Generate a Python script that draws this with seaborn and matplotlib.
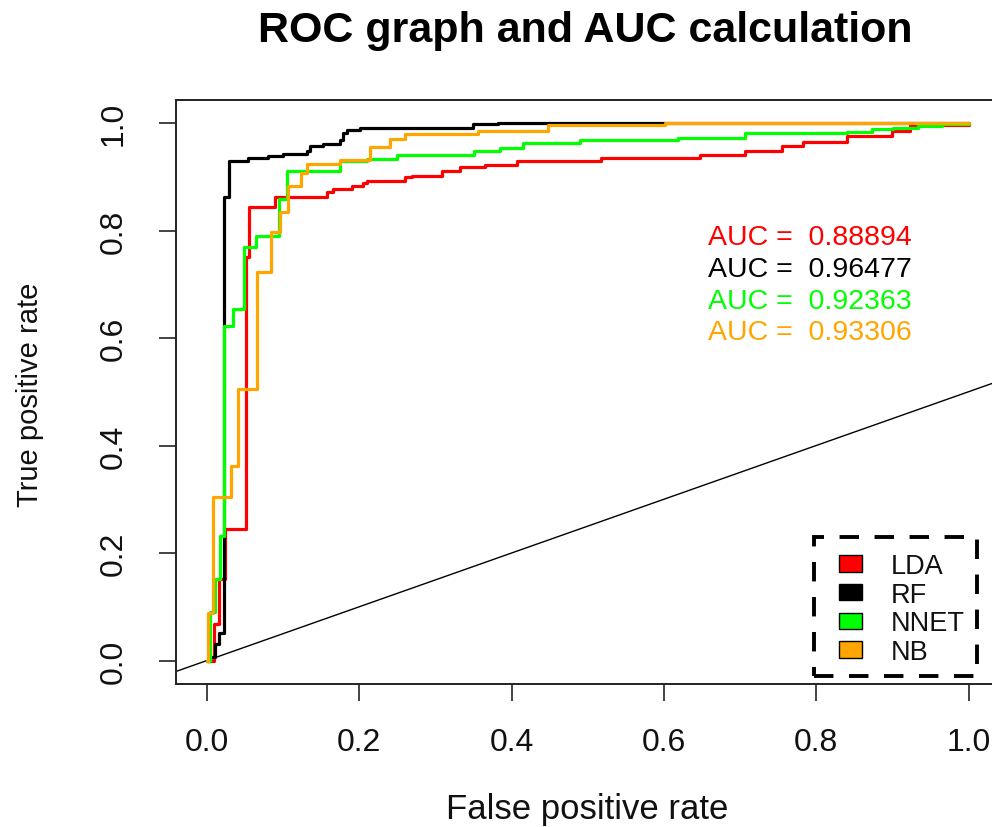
import matplotlib
matplotlib.use("Agg")
import matplotlib.pyplot as plt
import seaborn as sns
import pandas as pd
from matplotlib.patches import Patch, Rectangle

# ---- data ----
models = ["LDA", "RF", "NNET", "NB"]
colors = ["#FF0000", "#000000", "#00FF00", "#FFA500"]
auc_values = ["0.88894", "0.96477", "0.92363", "0.93306"]

lda_fpr = [0, 0.009, 0.016, 0.024, 0.051, 0.055, 0.089, 0.157, 0.165, 0.190, 0.205, 0.210, 0.260, 0.269,
           0.308, 0.332, 0.365, 0.407, 0.518, 0.647, 0.706, 0.755, 0.783, 0.840, 0.899, 0.923, 1.0]
lda_tpr = [0, 0.068, 0.152, 0.245, 0.751, 0.844, 0.862, 0.871, 0.877, 0.883, 0.888, 0.893, 0.899, 0.902,
           0.911, 0.918, 0.921, 0.930, 0.935, 0.940, 0.948, 0.958, 0.964, 0.976, 0.985, 0.996, 1.0]

rf_fpr = [0, 0.004, 0.010, 0.016, 0.022, 0.029, 0.054, 0.080, 0.100, 0.131, 0.135, 0.152, 0.175, 0.179,
          0.184, 0.201, 0.349, 0.382, 1.0]
rf_tpr = [0, 0.007, 0.030, 0.052, 0.863, 0.930, 0.935, 0.939, 0.942, 0.948, 0.957, 0.961, 0.968, 0.981,
          0.987, 0.991, 0.998, 1.0, 1.0]

nnet_fpr = [0, 0.004, 0.0105, 0.017, 0.022, 0.034, 0.049, 0.064, 0.094, 0.105, 0.175, 0.210, 0.249, 0.350,
            0.385, 0.415, 0.490, 0.619, 0.706, 0.840, 0.873, 0.901, 0.934, 0.965, 1.0]
nnet_tpr = [0, 0.090, 0.152, 0.232, 0.623, 0.654, 0.769, 0.790, 0.859, 0.911, 0.930, 0.933, 0.940, 0.948,
            0.953, 0.963, 0.969, 0.972, 0.981, 0.984, 0.988, 0.990, 0.994, 0.998, 1.0]

nb_fpr = [0, 0.001, 0.0075, 0.032, 0.041, 0.066, 0.084, 0.096, 0.106, 0.124, 0.131, 0.175, 0.214, 0.240,
          0.260, 0.356, 0.448, 0.601, 1.0]
nb_tpr = [0, 0.088, 0.304, 0.361, 0.505, 0.722, 0.797, 0.834, 0.883, 0.907, 0.924, 0.931, 0.955, 0.970,
          0.980, 0.986, 0.997, 1.0, 1.0]

x_ticks = [0.0, 0.2, 0.4, 0.6, 0.8, 1.0]
y_ticks = [0.0, 0.2, 0.4, 0.6, 0.8, 1.0]
diag_slope = 0.5

title = "ROC graph and AUC calculation"
xlabel = "False positive rate"
ylabel = "True positive rate"

# ---- build table ----
frames = []
for name, fx, ty in zip(models, [lda_fpr, rf_fpr, nnet_fpr, nb_fpr], [lda_tpr, rf_tpr, nnet_tpr, nb_tpr]):
    frames.append(pd.DataFrame({"fpr": fx, "tpr": ty, "model": name}))
df = pd.concat(frames, ignore_index=True)

sns.set_theme(style="ticks")
plt.rcParams["font.family"] = ["Liberation Sans", "DejaVu Sans"]
plt.rcParams["text.color"] = "black"

W, H = 992, 828
fig = plt.figure(figsize=(W / 100, H / 100), dpi=100)
left_px, right_px, top_px, bottom_px = 176, 999.5, 101, 685
ax = fig.add_axes([left_px / W, 1 - bottom_px / H, (right_px - left_px) / W, (bottom_px - top_px) / H])

sns.lineplot(data=df, x="fpr", y="tpr", hue="model", hue_order=models, palette=colors,
             estimator=None, sort=False, drawstyle="steps-post", linewidth=2.3,
             legend=False, ax=ax)

ax.axline((0, 0), slope=diag_slope, color="black", linewidth=1.0, zorder=1)

ax.set_xlim(-0.0407, 1.0407)
ax.set_ylim(-0.0437, 1.0428)
ax.set_xticks(x_ticks)
ax.set_yticks(y_ticks)
ax.set_xticklabels([f"{v:.1f}" for v in x_ticks])
ax.set_yticklabels([f"{v:.1f}" for v in y_ticks], rotation=90, va="center")
ax.tick_params(axis="both", direction="out", length=12, width=1.2, color="#222222",
               labelsize=23, labelcolor="#111111")
ax.tick_params(axis="x", pad=19)
ax.tick_params(axis="y", pad=22)
ax.set_xlabel("")
ax.set_ylabel("")
for sp in ax.spines.values():
    sp.set_linewidth(1.4)
    sp.set_color("#222222")

# AUC texts
auc_y = [0.788, 0.728, 0.668, 0.611]
for c, v, yy in zip(colors, auc_values, auc_y):
    ax.text(0.658, yy, f"AUC =  {v}", color=c, fontsize=20.5, va="center", ha="left")

# legend: dashed frame drawn as a separate rectangle, entries via legend
box_l, box_t, box_r, box_b = 814, 538, 977, 677
fig.patches.append(Rectangle((box_l / W, 1 - box_b / H), (box_r - box_l) / W, (box_b - box_t) / H,
                             transform=fig.transFigure, fill=False, edgecolor="black",
                             linewidth=2.8, linestyle=(0, (5, 4)), zorder=5))
handles = [Patch(facecolor=c, edgecolor="black", linewidth=1.0) for c in colors]
leg = ax.legend(handles, models, loc="upper left", bbox_to_anchor=(839 / W, 1 - 554 / H),
                bbox_transform=fig.transFigure, fontsize=19.5, frameon=False,
                handlelength=0.85, handleheight=0.55, handletextpad=1.05, labelspacing=0.1,
                borderpad=0.0, borderaxespad=0)
for t in leg.get_texts():
    t.set_color("#111111")

fig.text(585 / W, 1 - 31 / H, title, ha="center", va="center", fontsize=31, fontweight="bold",
         color="black")
fig.text(587 / W, 1 - 810 / H, xlabel, ha="center", va="center", fontsize=25, color="#111111")
fig.text(30 / W, 1 - 395 / H, ylabel, ha="center", va="center", fontsize=21, rotation=90, color="#111111")

fig.savefig("out.png", dpi=100)
